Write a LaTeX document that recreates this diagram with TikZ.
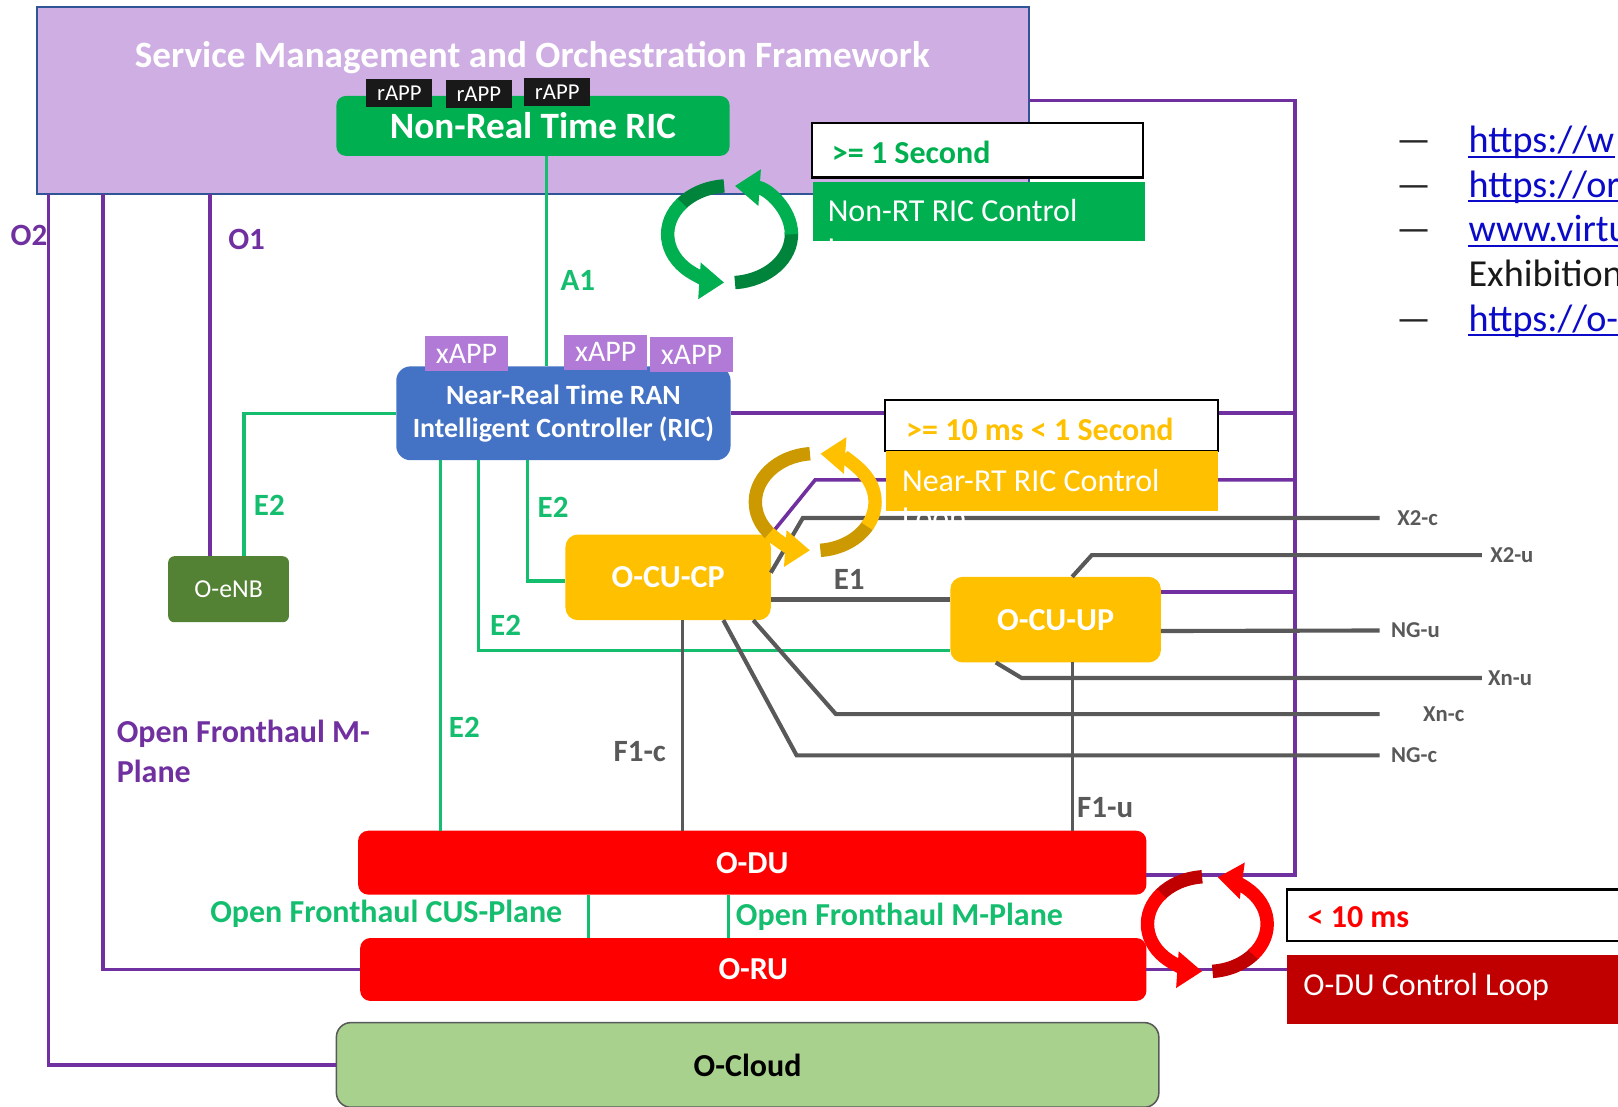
\documentclass[tikz,border=0pt]{standalone}
\usepackage{fontspec}
\setmainfont{Carlito}
\usepackage{tikz}
\usetikzlibrary{positioning}
\usetikzlibrary{arrows.meta}

\definecolor{smolilac}{RGB}{206,174,227}
\definecolor{smoedge}{RGB}{47,85,151}
\definecolor{ricgreen}{RGB}{0,176,80}
\definecolor{ricgreendk}{RGB}{0,132,60}
\definecolor{xapplilac}{RGB}{176,122,214}
\definecolor{ricblue}{RGB}{68,114,196}
\definecolor{enbgreen}{RGB}{84,130,53}
\definecolor{cugold}{RGB}{255,192,0}
\definecolor{cugolddk}{RGB}{204,153,0}
\definecolor{dured}{RGB}{255,0,0}
\definecolor{duredk}{RGB}{192,0,0}
\definecolor{cloudgreen}{RGB}{169,209,142}
\definecolor{ifpurple}{RGB}{112,48,160}
\definecolor{ifgreen}{RGB}{20,190,110}
\definecolor{ifgray}{RGB}{89,89,89}
\definecolor{linkblue}{RGB}{10,10,200}

\tikzset{
  block/.style={inner sep=0pt, outer sep=0pt},
  rapp/.style={block, fill=black!90, text=white, minimum width=64, minimum height=27, font=\fontsize{22}{24}\selectfont},
  xapp/.style={block, fill=xapplilac, text=white, minimum width=80, minimum height=34, font=\fontsize{29}{30}\selectfont},
  cubox/.style={block, fill=cugold, rounded corners=12pt, text=white, font=\bfseries\fontsize{31}{34}\selectfont},
  dubox/.style={block, fill=dured, rounded corners=10pt, text=white, font=\bfseries\fontsize{31}{34}\selectfont},
  secbox/.style={block, fill=white, draw=black, line width=2pt},
  purpleline/.style={draw=ifpurple, line width=3.5pt},
  greenline/.style={draw=ifgreen, line width=3pt},
  grayline/.style={draw=ifgray, line width=4pt},
  iflabel/.style={inner sep=0pt, font=\bfseries\fontsize{30}{34}\selectfont},
  longlabel/.style={inner sep=0pt, font=\bfseries\fontsize{31}{34}\selectfont},
  refname/.style={inner sep=0pt, anchor=west, text=ifgray, font=\bfseries\fontsize{22}{24}\selectfont},
  ctltext/.style={inner sep=0pt, anchor=base west, font=\fontsize{31}{34}\selectfont},
  sectext/.style={inner sep=0pt, anchor=base west, font=\bfseries\fontsize{31}{34}\selectfont},
  linktext/.style={inner sep=0pt, anchor=base west, font=\fontsize{37}{40}\selectfont},
  looparrow/.style={line width=13pt, -{Triangle[width=34pt,length=24pt]}},
}

\begin{document}
\begin{tikzpicture}[x=1pt,y=-1pt]
\useasboundingbox (0,0) rectangle (1568,1072);
\clip (0,0) rectangle (1568,1072);

\node[block, fill=smolilac, draw=smoedge, line width=2pt, minimum width=961, minimum height=181] (smo) at (516.5,97.5) {};
\node[inner sep=0pt, text=white, font=\bfseries\fontsize{36}{40}\selectfont] (smotitle) at (516,56) {Service Management and Orchestration Framework};
\node[block, fill=ricgreen, rounded corners=9pt, minimum width=381, minimum height=58, text=white, font=\bfseries\fontsize{36}{40}\selectfont] (nonrt) at (516.5,122) {Non-Real Time RIC};
\node[rapp] (rapp1) at (387,90.5) {rAPP};
\node[rapp] (rapp2) at (464,91.5) {rAPP};
\node[rapp] (rapp3) at (540,89.5) {rAPP};

\node[block, fill=ricblue, rounded corners=14pt, minimum width=324, minimum height=91, text=white, align=center, font=\bfseries\fontsize{27}{32}\selectfont] (nearrt) at (546,400.5) {Near-Real Time RAN\\Intelligent Controller (RIC)};
\node[xapp] (xapp1) at (452,343) {xAPP};
\node[xapp] (xapp2) at (587,341.5) {xAPP};
\node[xapp] (xapp3) at (670,343.5) {xAPP};

\node[block, fill=enbgreen, rounded corners=6pt, minimum width=117, minimum height=64, text=white, font=\fontsize{25}{28}\selectfont] (oenb) at (221.5,571) {O-eNB};
\node[cubox, minimum width=199, minimum height=83] (cucp) at (647.5,559.5) {O-CU-CP};
\node[cubox, minimum width=204, minimum height=83] (cuup) at (1023,600.5) {O-CU-UP};
\node[dubox, minimum width=764, minimum height=62] (odu) at (729,836) {O-DU};
\node[dubox, minimum width=762, minimum height=61] (oru) at (730,939.5) {O-RU};
\node[block, fill=cloudgreen, draw=ifgray, line width=1.5pt, rounded corners=14pt, minimum width=797, minimum height=82, font=\bfseries\fontsize{31}{34}\selectfont] (ocloud) at (724.5,1032) {O-Cloud};

\coordinate (trunk) at (1255,848);
\coordinate (o2x) at (47,0);
\coordinate (mpx) at (100,0);
\coordinate (ricp) at (790,465);
\coordinate (x2c) at (1337,502);
\coordinate (x2u) at (1436,538);
\coordinate (ngu) at (1337,611);
\coordinate (xnu) at (1436,657);
\coordinate (xnc) at (1337,692);
\coordinate (ngc) at (1337,732);

\draw[purpleline] (smo.east) -| (trunk) -- (trunk -| odu.east);
\draw[purpleline] (nearrt.east) -- (nearrt.east -| trunk);
\draw[purpleline] (cucp.north east) -- (ricp) -- (ricp -| trunk);
\draw[purpleline] ([yshift=27pt]cuup.east) -- ([yshift=27pt]cuup.east -| trunk);
\draw[purpleline] (ocloud.west) -| (o2x |- smo.south);
\draw[purpleline] (oru.west) -| (mpx |- smo.south);
\draw[purpleline] ([xshift=-18pt]oenb.north) -- ([xshift=-18pt]oenb.north |- smo.south);

\draw[greenline] ([xshift=13.5pt]nonrt.south) -- ([xshift=13.5pt]nonrt.south |- nearrt.north);
\draw[greenline] (nearrt.west) -| ([xshift=15pt]oenb.north);
\draw[greenline] ([xshift=-35pt]nearrt.south) |- ([yshift=-3.5pt]cucp.west);
\draw[greenline] ([xshift=-82pt]nearrt.south) |- ([yshift=-29.5pt]cuup.west);
\draw[greenline] ([xshift=-119pt]nearrt.south) -- ([xshift=-119pt]nearrt.south |- odu.north);
\draw[greenline] ([xshift=-159pt]odu.south) -- ([xshift=-159pt]odu.south |- oru.north);
\draw[greenline] ([xshift=-23pt]odu.south) -- ([xshift=-23pt]odu.south |- oru.north);

\draw[grayline] ([yshift=-21.5pt]cucp.east) -- ([yshift=-21.5pt]cucp.east -| cuup.west);
\draw[grayline] ([yshift=4.5pt]cucp.east) -- ++(31,-53) -- (x2c);
\draw[grayline] ([xshift=16pt]cuup.north) -- ++(19,-21) -- (x2u);
\draw[grayline] ([yshift=-11pt]cuup.east) -- (ngu);
\draw[grayline] ([xshift=-58pt]cuup.south) -- ++(25,15) -- (xnu);
\draw[grayline] ([xshift=82.5pt]cucp.south) -- ++(80,91) -- (xnc);
\draw[grayline] ([xshift=53.5pt]cucp.south) -- ++(71,131) -- (ngc);
\draw[grayline, line width=3pt] ([xshift=13.5pt]cucp.south) -- ([xshift=13.5pt]cucp.south |- odu.north);
\draw[grayline, line width=3pt] ([xshift=16pt]cuup.south) -- ([xshift=16pt]cuup.south |- odu.north);

\node[refname, right=17pt of x2c] (lx2c) {X2-c};
\node[refname, right=8pt of x2u] (lx2u) {X2-u};
\node[refname, right=11pt of ngu] (lngu) {NG-u};
\node[refname, right=6pt of xnu] (lxnu) {Xn-u};
\node[refname, right=42pt of xnc] (lxnc) {Xn-c};
\node[refname, right=11pt of ngc] (lngc) {NG-c};

\node[secbox, minimum width=321, minimum height=53] (nrtsec) at (947.5,145.5) {};
\node[sectext, text=ricgreen] (nrtsectxt) at (806,158) {>= 1 Second};
\node[block, fill=ricgreen, minimum width=322, minimum height=58] (nrtctl) at (949,205) {};
\node[ctltext, text=white] (nrtctltxt) at (802,215) {Non-RT RIC Control};
\node[ctltext, text=white] (nrtloop) at (802,251) {Loop};

\node[secbox, minimum width=322, minimum height=49] (nearsec) at (1019,412.5) {};
\node[sectext, text=cugold] (nearsectxt) at (878,427) {>= 10 ms < 1 Second};
\node[block, fill=cugold, minimum width=321, minimum height=58] (nearctl) at (1019.5,466) {};
\node[ctltext, text=white] (nearctltxt) at (874,476) {Near-RT RIC Control};
\node[ctltext, text=white] (nearloop) at (874,512) {Loop};

\node[secbox, minimum width=340, minimum height=50] (dusec) at (1417,887) {};
\node[sectext, text=dured] (dusectxt) at (1267,899) {< 10 ms};
\node[block, fill=duredk, minimum width=340, minimum height=67] (ductl) at (1417,958.5) {};
\node[ctltext, text=white] (ductltxt) at (1263,965) {O-DU Control Loop};
\draw[purpleline] (oru.east) -- (oru.east -| ductl.west);

\coordinate (gloop) at (707,227);
\draw[ricgreendk, line width=13pt] ([shift={(95:60pt and 47pt)}]gloop) arc[start angle=95, end angle=142, x radius=60pt, y radius=47pt];
\draw[ricgreen, looparrow] ([shift={(140:60pt and 47pt)}]gloop) arc[start angle=140, end angle=265, x radius=60pt, y radius=47pt];
\draw[ricgreendk, line width=13pt] ([shift={(275:60pt and 47pt)}]gloop) arc[start angle=275, end angle=362, x radius=60pt, y radius=47pt];
\draw[ricgreen, looparrow] ([shift={(360:60pt and 47pt)}]gloop) arc[start angle=360, end angle=445, x radius=60pt, y radius=47pt];

\coordinate (yloop) at (790,486.5);
\draw[cugolddk, line width=13pt] ([shift={(95:58pt and 47pt)}]yloop) arc[start angle=95, end angle=222, x radius=58pt, y radius=47pt];
\draw[cugold, looparrow] ([shift={(220:58pt and 47pt)}]yloop) arc[start angle=220, end angle=265, x radius=58pt, y radius=47pt];
\draw[cugolddk, line width=13pt] ([shift={(275:58pt and 47pt)}]yloop) arc[start angle=275, end angle=332, x radius=58pt, y radius=47pt];
\draw[cugold, looparrow] ([shift={(330:58pt and 47pt)}]yloop) arc[start angle=330, end angle=445, x radius=58pt, y radius=47pt];

\coordinate (rloop) at (1170,895.5);
\draw[duredk, line width=13pt] ([shift={(95:58pt and 46pt)}]rloop) arc[start angle=95, end angle=142, x radius=58pt, y radius=46pt];
\draw[dured, looparrow] ([shift={(140:58pt and 46pt)}]rloop) arc[start angle=140, end angle=265, x radius=58pt, y radius=46pt];
\draw[duredk, line width=13pt] ([shift={(275:58pt and 46pt)}]rloop) arc[start angle=275, end angle=322, x radius=58pt, y radius=46pt];
\draw[dured, looparrow] ([shift={(320:58pt and 46pt)}]rloop) arc[start angle=320, end angle=440, x radius=58pt, y radius=46pt];

\node[iflabel, text=ifpurple] (lo2) at (28,228) {O2};
\node[iflabel, text=ifpurple] (lo1) at (239,232) {O1};
\node[iflabel, text=ifgreen] (la1) at (560,272) {A1};
\node[iflabel, text=ifgreen] (le2a) at (261,490) {E2};
\node[iflabel, text=ifgreen] (le2b) at (536,492) {E2};
\node[iflabel, text=ifgreen] (le2c) at (490,606) {E2};
\node[iflabel, text=ifgreen] (le2d) at (450,705) {E2};
\node[iflabel, text=ifgray] (le1) at (823,562) {E1};
\node[iflabel, text=ifgray] (lf1c) at (620,728) {F1-c};
\node[iflabel, text=ifgray] (lf1u) at (1071,783) {F1-u};
\node[longlabel, text=ifpurple, anchor=west] (lmp1) at (113,711) {Open Fronthaul M-};
\node[longlabel, text=ifpurple, anchor=west] (lmp2) at (113,748) {Plane};
\node[longlabel, text=ifgreen, anchor=east] (lcus) at (545,886) {Open Fronthaul CUS-Plane};
\node[longlabel, text=ifgreen, anchor=west] (lmpl) at (713,888) {Open Fronthaul M-Plane};

\node[linktext, text=black!85] (dash1) at (1353,148) {—};
\node[linktext, text=black!85] (dash2) at (1353,191) {—};
\node[linktext, text=black!85] (dash3) at (1353,234) {—};
\node[linktext, text=black!85] (dash4) at (1353,321) {—};
\node[linktext, text=linkblue] (lnk1) at (1423,148) {https://w};
\node[linktext, text=linkblue] (lnk2) at (1423,191) {https://or};
\node[linktext, text=linkblue] (lnk3) at (1423,234) {www.virtu};
\node[linktext, text=black!90] (lnk4) at (1423,278) {Exhibition};
\node[linktext, text=linkblue] (lnk5) at (1423,321) {https://o-};
\draw[linkblue, line width=2pt] ([yshift=-4pt]lnk1.base west) -- ([yshift=-4pt]lnk1.base east);
\draw[linkblue, line width=2pt] ([yshift=-4pt]lnk2.base west) -- ([yshift=-4pt]lnk2.base east);
\draw[linkblue, line width=2pt] ([yshift=-4pt]lnk3.base west) -- ([yshift=-4pt]lnk3.base east);
\draw[linkblue, line width=2pt] ([yshift=-4pt]lnk5.base west) -- ([yshift=-4pt]lnk5.base east);
\end{tikzpicture}
\end{document}
